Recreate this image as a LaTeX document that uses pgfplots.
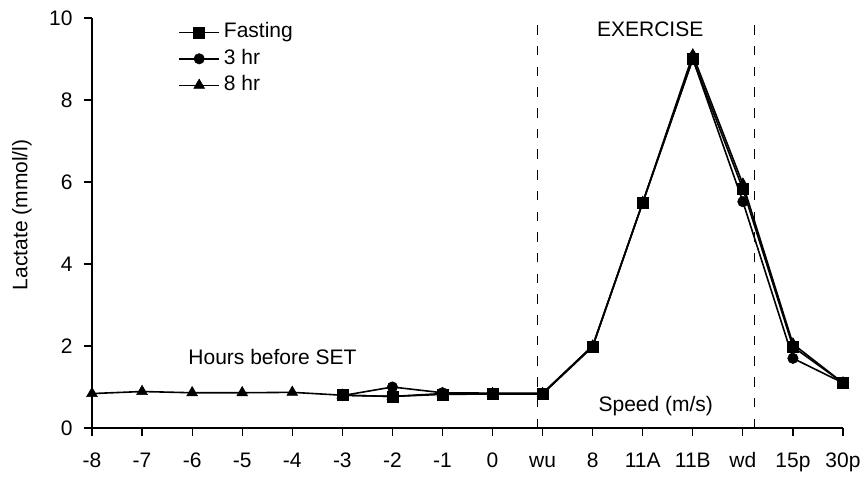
\documentclass[border=0pt]{standalone}
\usepackage{pgfplots}
\pgfplotsset{compat=1.18}
\usepackage{fontspec}
\setmainfont{Liberation Sans}
\begin{document}
\fontsize{10.5}{12.6}\selectfont
\begin{tikzpicture}[font=\fontsize{10.5}{12.6}\selectfont]
\useasboundingbox (-46pt,-25.5pt) rectangle (387.5pt,214pt);
\begin{axis}[
  at={(0pt,0pt)}, anchor=south west,
  scale only axis,
  width=375.5pt, height=205pt,
  xmin=0, xmax=15, ymin=0, ymax=10,
  axis x line*=bottom, axis y line*=left,
  axis line style={line width=0.7pt},
  tick align=outside,
  major tick length=4pt,
  tick style={line width=0.6pt, black},
  xtick={0,...,15},
  xticklabels={-8,-7,-6,-5,-4,-3,-2,-1,0,wu,8,11A,11B,wd,15p,30p},
  xticklabel style={anchor=base, inner sep=0pt, yshift=-15.75pt},
  ytick={0,2,4,6,8,10},
  yticklabels={},
  ylabel={Lactate (mmol/l)},
  ylabel style={at={(axis description cs:-0.0932,0.52)}, anchor=center, rotate=0},
  clip=false,
  legend style={at={(axis description cs:0.1145,0.99)}, anchor=north west,
    draw=none, fill=none, inner sep=0pt, row sep=3.45pt, column sep=2pt,
    nodes={inner sep=0pt, text height=7.6pt, text depth=2.2pt}},
  legend cell align=left,
  legend image code/.code={\draw[mark repeat=2,mark phase=2] plot coordinates {(0pt,0pt)(10pt,0pt)(20pt,0pt)};},
  every axis plot/.append style={line width=0.8pt, black},
]
\addplot[mark=square*, mark size=2.75pt, mark options={solid, line width=0.3pt}] coordinates {
(5,0.80)(6,0.77)(7,0.82)(8,0.83)(9,0.83)(10,1.98)(11,5.5)(12,9.0)(13,5.83)(14,1.98)(15,1.1)};
\addlegendentry{Fasting}
\addplot[mark=*, mark size=2.6pt, mark options={solid, line width=0.3pt}] coordinates {
(5,0.79)(6,1.0)(7,0.86)(8,0.85)(9,0.85)(10,2.0)(11,5.5)(12,9.0)(13,5.52)(14,1.7)(15,1.1)};
\addlegendentry{3 hr}
\addplot[mark=triangle*, mark size=3.1pt, mark options={solid, line width=0.3pt}] coordinates {
(0,0.84)(1,0.89)(2,0.86)(3,0.86)(4,0.87)(5,0.80)(6,0.77)(7,0.84)(8,0.84)(9,0.84)(10,2.0)(11,5.5)(12,9.1)(13,5.95)(14,2.05)(15,1.1)};
\addlegendentry{8 hr}
\addplot[forget plot, no marks, line width=0.5pt, dash pattern=on 4.75pt off 5.6pt] coordinates {(8.9,0)(8.9,10)};
\addplot[forget plot, no marks, line width=0.5pt, dash pattern=on 4.75pt off 5.6pt] coordinates {(13.23,0)(13.23,10)};
\pgfplotsinvokeforeach{0,2,4,6,8,10}{
  \node[anchor=base east, inner sep=0pt] at ([xshift=-9.5pt,yshift=-3.75pt]axis cs:0,#1) {#1};
}
\node[anchor=base] at (axis cs:11.15,9.56) {EXERCISE};
\node[anchor=base] at (axis cs:3.605,1.537) {Hours before SET};
\node[anchor=base] at (axis cs:11.26,0.40) {Speed (m/s)};
\end{axis}
\end{tikzpicture}
\end{document}
